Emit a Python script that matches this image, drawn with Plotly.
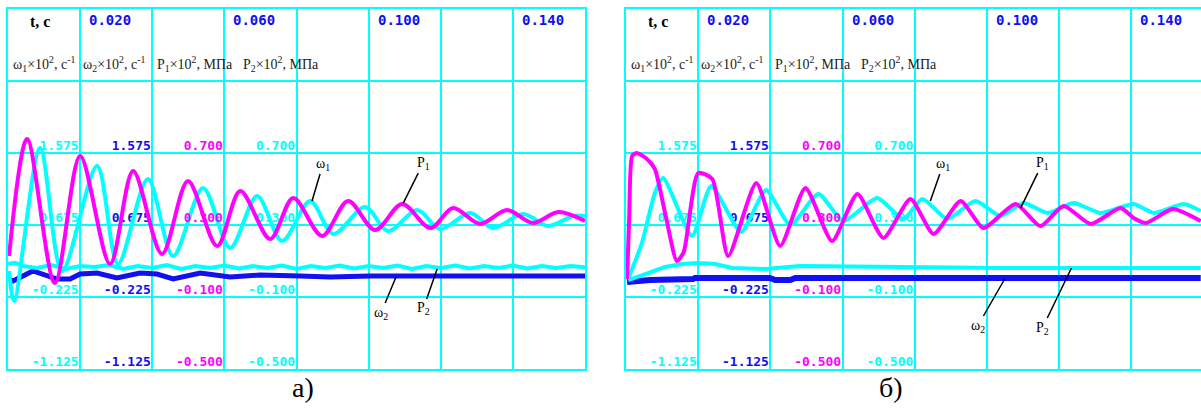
import plotly.graph_objects as go

# ---------------- data (panel а) ----------------
p1a_t = [0.0003, 0.0053, 0.0130, 0.0200, 0.0283, 0.0347, 0.0427, 0.0499, 0.0580, 0.0644, 0.0727, 0.0791,
         0.0871, 0.0943, 0.1018, 0.1093, 0.1171, 0.1234, 0.1309, 0.1384, 0.1456, 0.1526, 0.1600]
p1a = [0.128, 0.778, -0.022, 0.683, 0.083, 0.600, 0.139, 0.544, 0.183, 0.489, 0.222, 0.450,
       0.239, 0.433, 0.272, 0.417, 0.283, 0.394, 0.306, 0.383, 0.311, 0.372, 0.322]

w1a_t = [0.0003, 0.0017, 0.0089, 0.0150, 0.0247, 0.0305, 0.0388, 0.0458, 0.0541, 0.0616, 0.0691, 0.0760,
         0.0838, 0.0902, 0.0990, 0.1054, 0.1135, 0.1198, 0.1282, 0.1345, 0.1429, 0.1498, 0.1567, 0.1600]
w1a = [0.100, -0.275, 1.6375, 0.100, 1.4125, 0.1875, 1.250, 0.2875, 1.1375, 0.3875, 1.0375, 0.475,
       0.975, 0.5625, 0.900, 0.600, 0.8625, 0.625, 0.825, 0.6375, 0.8125, 0.6625, 0.7875, 0.7875]

w2a_t = [0.0003, 0.0014, 0.0069, 0.0103, 0.0136, 0.0172, 0.0200, 0.0247, 0.0302, 0.0366, 0.0413, 0.0458,
         0.0533, 0.0616, 0.0699, 0.0810, 0.0893, 0.1004, 0.1115, 0.1226, 0.1365, 0.1476, 0.1600]
w2a = [0.0, -0.025, 0.100, 0.050, 0.0, 0.0, 0.0625, 0.075, 0.0125, 0.075, 0.0625, 0.0,
       0.075, 0.025, 0.050, 0.0375, 0.025, 0.0375, 0.0375, 0.050, 0.0375, 0.050, 0.0375]

p2a_t = [0.000, 0.002, 0.004, 0.008, 0.012, 0.016, 0.020, 0.024, 0.028, 0.032, 0.036, 0.040, 0.044,
         0.048, 0.052, 0.056, 0.060, 0.064, 0.068, 0.072, 0.076, 0.080, 0.084, 0.088, 0.092, 0.096,
         0.100, 0.104, 0.108, 0.112, 0.116, 0.120, 0.124, 0.128, 0.132, 0.136, 0.140, 0.144, 0.148,
         0.152, 0.156, 0.160]
p2a = [0.085, 0.090, 0.072, 0.061, 0.078, 0.056, 0.072, 0.067, 0.078, 0.056, 0.072, 0.061, 0.078,
       0.056, 0.072, 0.061, 0.075, 0.058, 0.072, 0.061, 0.075, 0.056, 0.072, 0.061, 0.075, 0.058,
       0.072, 0.061, 0.075, 0.056, 0.072, 0.061, 0.075, 0.058, 0.072, 0.061, 0.075, 0.058, 0.072,
       0.061, 0.072, 0.065]

# ---------------- data (panel б) ----------------
p1b_t = [0.0003, 0.0009, 0.0017, 0.0030, 0.0058, 0.0080, 0.0110, 0.0141, 0.0160, 0.0200, 0.0239,
         0.0283, 0.0361, 0.0427, 0.0497, 0.0571, 0.0641, 0.0713, 0.0788, 0.0852, 0.0927, 0.0990,
         0.1079, 0.1148, 0.1212, 0.1287, 0.1370, 0.1406, 0.1440, 0.1515, 0.1592]
p1b = [0.000, 0.350, 0.683, 0.700, 0.667, 0.611, 0.350, 0.100, 0.150, 0.589, 0.556,
       0.128, 0.533, 0.183, 0.506, 0.211, 0.472, 0.228, 0.444, 0.250, 0.433, 0.283,
       0.417, 0.294, 0.406, 0.306, 0.394, 0.339, 0.311, 0.389, 0.322]

w1b_t = [0.0006, 0.0044, 0.0080, 0.0103, 0.0183, 0.0236, 0.0319, 0.0388, 0.0455, 0.0533, 0.0602,
         0.0696, 0.0768, 0.0821, 0.0890, 0.0968, 0.1037, 0.1101, 0.1168, 0.1240, 0.1315, 0.1406,
         0.1462, 0.1545, 0.1592]
w1b = [0.0, 0.450, 1.075, 1.2625, 0.5375, 1.1625, 0.5875, 1.1125, 0.675, 1.0625, 0.725,
       1.0125, 0.750, 1.000, 0.750, 0.975, 0.7875, 0.950, 0.825, 0.950, 0.825, 0.9375,
       0.825, 0.9375, 0.850]

w2b_t = [0.0003, 0.0067, 0.0186, 0.0191, 0.0399, 0.0413, 0.0455, 0.0469, 0.1592]
w2b = [-0.0375, -0.0125, 0.0, 0.0125, 0.0125, -0.0125, -0.0125, 0.0125, 0.0125]

p2b_t = [0.0006, 0.0033, 0.0061, 0.0108, 0.0155, 0.0200, 0.0247, 0.0294, 0.0386, 0.0449, 0.0483,
         0.0760, 0.1037, 0.1315, 0.1592]
p2b = [-0.006, 0.011, 0.033, 0.067, 0.083, 0.089, 0.083, 0.061, 0.056, 0.067, 0.072,
       0.067, 0.061, 0.061, 0.061]

# ---------------- scale labels ----------------
w_ticks = [1.575, 0.675, -0.225, -1.125]
p_ticks = [0.700, 0.300, -0.100, -0.500]
time_labels = [0.020, 0.060, 0.100, 0.140]
header_names = ["ω<sub>1</sub>×10<sup>2</sup>, c<sup>-1</sup>",
                "ω<sub>2</sub>×10<sup>2</sup>, c<sup>-1</sup>",
                "P<sub>1</sub>×10<sup>2</sup>, МПа",
                "P<sub>2</sub>×10<sup>2</sup>, МПа"]

CYAN = "#00ffff"
BLUE = "#1010f0"
MAG = "#ff00ff"
W, H = 1201, 412

fig = go.Figure()

panels = [
    dict(x="x", yw="y", yp="y2", p1=(p1a_t, p1a), w1=(w1a_t, w1a), w2=(w2a_t, w2a), p2=(p2a_t, p2a),
         bw=5, sm=0.9),
    dict(x="x2", yw="y3", yp="y4", p1=(p1b_t, p1b), w1=(w1b_t, w1b), w2=(w2b_t, w2b), p2=(p2b_t, p2b),
         bw=6, sm=0.6),
]

for pn in panels:
    # value labels (drawn below curves)
    cols = [(0.02, w_ticks, CYAN, pn["yw"]), (0.04, w_ticks, BLUE, pn["yw"]),
            (0.06, p_ticks, MAG, pn["yp"]), (0.08, p_ticks, CYAN, pn["yp"])]
    for xb, ticks, col, ya in cols:
        fig.add_trace(go.Scatter(
            x=[xb - 0.0004] * len(ticks), y=ticks, mode="text",
            text=[f"{v:.3f}" for v in ticks], textposition="top left",
            textfont=dict(family="DejaVu Sans Mono", size=13, color=col, weight="bold"),
            xaxis=pn["x"], yaxis=ya, hoverinfo="skip", showlegend=False, cliponaxis=False))
    fig.add_trace(go.Scatter(x=pn["p2"][0], y=pn["p2"][1], mode="lines", line=dict(color=CYAN, width=4),
                             xaxis=pn["x"], yaxis=pn["yp"], showlegend=False))
    fig.add_trace(go.Scatter(x=pn["w2"][0], y=pn["w2"][1], mode="lines", line=dict(color=BLUE, width=pn["bw"]),
                             xaxis=pn["x"], yaxis=pn["yw"], showlegend=False))
    fig.add_trace(go.Scatter(x=pn["w1"][0], y=pn["w1"][1], mode="lines",
                             line=dict(color=CYAN, width=4, shape="spline", smoothing=pn["sm"]),
                             xaxis=pn["x"], yaxis=pn["yw"], showlegend=False))
    fig.add_trace(go.Scatter(x=pn["p1"][0], y=pn["p1"][1], mode="lines",
                             line=dict(color=MAG, width=4, shape="spline", smoothing=pn["sm"]),
                             xaxis=pn["x"], yaxis=pn["yp"], showlegend=False))

y_dom = [1 - 369 / H, 1 - 9 / H]
grid = dict(showgrid=True, gridcolor=CYAN, gridwidth=2, showline=True, linecolor=CYAN, linewidth=2,
            showticklabels=False, ticks="", zeroline=False, fixedrange=True)
fig.update_layout(
    width=W, height=H, margin=dict(l=0, r=0, t=0, b=0),
    paper_bgcolor="white", plot_bgcolor="white", showlegend=False,
    xaxis=dict(domain=[8 / W, 585 / W], range=[0, 0.16], tick0=0, dtick=0.02, mirror=True, anchor="y", **grid),
    yaxis=dict(domain=y_dom, range=[-1.125, 3.375], tick0=-1.125, dtick=0.9, mirror=True, anchor="x", **grid),
    yaxis2=dict(overlaying="y", range=[-0.5, 1.5], visible=False, anchor="x"),
    xaxis2=dict(domain=[626 / W, 1.0], range=[0, 0.02 * (W - 626) / 72.2], tick0=0, dtick=0.02,
                mirror=True, anchor="y3", **grid),
    yaxis3=dict(domain=y_dom, range=[-1.125, 3.375], tick0=-1.125, dtick=0.9, mirror=False, anchor="x2", **grid),
    yaxis4=dict(overlaying="y3", range=[-0.5, 1.5], visible=False, anchor="x2"),
)

serif = "Liberation Serif"
ann = []
for xr, yr, ypr in [("x", "y", "y2"), ("x2", "y3", "y4")]:
    ann.append(dict(x=0.0089, y=3.375, xref=xr, yref=yr, text="<b>t, c</b>", showarrow=False,
                    yanchor="top", yshift=-2, font=dict(family=serif, size=16, color="black")))
    for tv in time_labels:
        ann.append(dict(x=tv, y=3.375, xref=xr, yref=yr, text=f"<b>{tv:.3f}</b>", showarrow=False,
                        xanchor="left", yanchor="top", xshift=7, yshift=-1,
                        font=dict(family="DejaVu Sans Mono", size=14, color=BLUE)))
    for i, name in enumerate(header_names):
        xs = [0.0008, 0.0203, 0.0408, 0.0645][i]
        ann.append(dict(x=xs, y=2.69, xref=xr, yref=yr, text=name, showarrow=False,
                        xanchor="left", yanchor="middle",
                        font=dict(family=serif, size=14, color="#222222")))

# curve labels with leader lines
lab_font = dict(family=serif, size=14, color="black")
leaders = [
    ("x", "y", 0.0843, 0.975, "ω<sub>1</sub>", 11, -37),
    ("x", "y2", 0.1096, 0.422, "P<sub>1</sub>", 20, -40),
    ("x", "y", 0.1076, 0.025, "ω<sub>2</sub>", -15, 36),
    ("x", "y2", 0.1190, 0.056, "P<sub>2</sub>", -14, 40),
    ("x2", "y3", 0.0843, 0.975, "ω<sub>1</sub>", 13, -37),
    ("x2", "y4", 0.1093, 0.394, "P<sub>1</sub>", 22, -45),
    ("x2", "y3", 0.1049, 0.0, "ω<sub>2</sub>", -27, 47),
    ("x2", "y4", 0.1234, 0.061, "P<sub>2</sub>", -29, 60),
]
for xr, yr, xv, yv, txt, ax, ay in leaders:
    ann.append(dict(x=xv, y=yv, xref=xr, yref=yr, text=txt, showarrow=True, arrowhead=0,
                    arrowwidth=1.5, arrowcolor="black", ax=ax, ay=ay, font=lab_font))

ann.append(dict(x=290 / W, y=1 - 405 / H, xref="paper", yref="paper", text="а)", showarrow=False,
                font=dict(family=serif, size=28, color="black")))
ann.append(dict(x=905 / W, y=1 - 405 / H, xref="paper", yref="paper", text="б)", showarrow=False,
                font=dict(family=serif, size=28, color="black")))
fig.update_layout(annotations=ann)

fig.write_html("out.html", config={"displayModeBar": False, "staticPlot": True},
               post_script="document.body.style.margin='0';document.body.style.overflow='hidden';")
